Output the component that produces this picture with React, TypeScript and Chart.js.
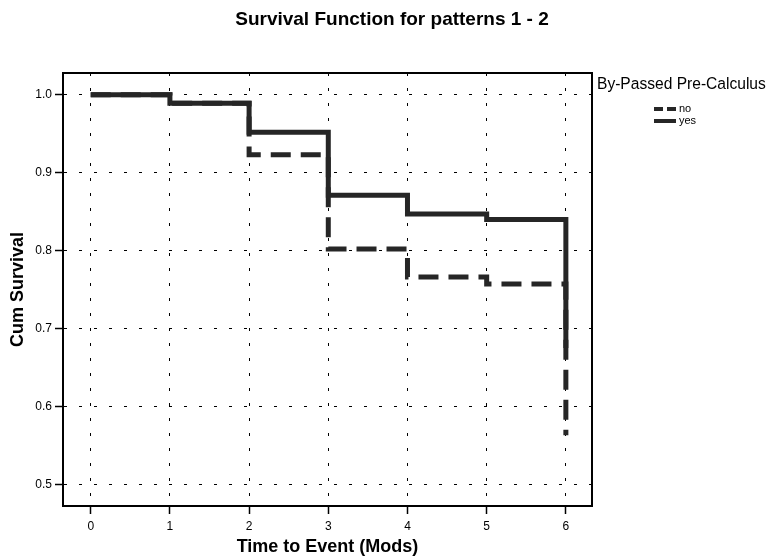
import React, { useEffect, useRef } from "react";
import { Chart, registerables } from "chart.js";

Chart.register(...registerables);

const TITLE = "Survival Function for patterns 1 - 2";
const X_TITLE = "Time to Event (Mods)";
const Y_TITLE = "Cum Survival";
const LEGEND_TITLE = "By-Passed Pre-Calculus";

const times = [0, 1, 2, 3, 4, 5, 6];
const seriesNames = ["no", "yes"];
const noSurvival = [1.0, 0.989, 0.923, 0.802, 0.766, 0.757, 0.563];
const yesSurvival = [1.0, 0.989, 0.952, 0.871, 0.847, 0.84, 0.675];

const xTicks = [0, 1, 2, 3, 4, 5, 6];
const yTicks = [0.5, 0.6, 0.7, 0.8, 0.9, 1.0];

const FONT = "'Liberation Sans', Arial, sans-serif";
const INK = "#262626";

const boxAndLegend = {
  id: "boxAndLegend",
  afterDraw(chart: any) {
    const { ctx, chartArea } = chart;
    ctx.save();
    ctx.strokeStyle = "#000";
    ctx.lineWidth = 2;
    ctx.setLineDash([]);
    ctx.strokeRect(chartArea.left, chartArea.top, chartArea.right - chartArea.left, chartArea.bottom - chartArea.top);

    // legend
    const lx = chartArea.right + 5;
    ctx.fillStyle = "#000";
    ctx.textBaseline = "middle";
    ctx.textAlign = "left";
    let fs = 15;
    ctx.font = `${fs}px ${FONT}`;
    const w = ctx.measureText(LEGEND_TITLE).width;
    fs = (fs * 169) / w;
    ctx.font = `${fs}px ${FONT}`;
    ctx.fillText(LEGEND_TITLE, lx, 85);
    const rows = [109, 121];
    chart.data.datasets.forEach((ds: any, i: number) => {
      const y = rows[i];
      ctx.strokeStyle = ds.borderColor;
      ctx.lineWidth = 4;
      ctx.setLineDash(ds.borderDash && ds.borderDash.length ? [9, 4] : []);
      ctx.beginPath();
      ctx.moveTo(654, y);
      ctx.lineTo(676, y);
      ctx.stroke();
      ctx.setLineDash([]);
      ctx.font = `11px ${FONT}`;
      ctx.fillStyle = "#000";
      ctx.fillText(ds.label, 679, y);
    });
    ctx.restore();
  },
};

export default function App() {
  const ref = useRef<HTMLCanvasElement>(null);
  useEffect(() => {
    if (!ref.current) return;
    const mk = (vals: number[]) => times.map((t, i) => ({ x: t, y: vals[i] }));
    const gridOpts = {
      color: "#000",
      lineWidth: 1,
      tickBorderDash: [],
      tickLength: 8,
      tickColor: "#000",
      tickWidth: 1.5,
    };
    const chart = new Chart(ref.current, {
      type: "line",
      data: {
        datasets: [
          {
            label: seriesNames[0],
            data: mk(noSurvival),
            borderColor: INK,
            borderWidth: 5,
            borderDash: [20, 10],
            stepped: "before",
            pointRadius: 0,
            fill: false,
          },
          {
            label: seriesNames[1],
            data: mk(yesSurvival),
            borderColor: INK,
            borderWidth: 5,
            stepped: "before",
            pointRadius: 0,
            fill: false,
          },
        ],
      },
      options: {
        animation: false,
        responsive: false,
        layout: { padding: { left: 12, right: 0, top: 0, bottom: 0 } },
        plugins: {
          legend: { display: false },
          tooltip: { enabled: false },
          title: {
            display: true,
            text: TITLE,
            color: "#000",
            font: { family: FONT, size: 19, weight: "bold", lineHeight: 1.2 },
            padding: { top: 8.6, bottom: 41.6 },
          },
        },
        scales: {
          x: {
            type: "linear",
            min: -0.35,
            max: 6.33,
            afterBuildTicks: (s: any) => {
              s.ticks = xTicks.map((v) => ({ value: v }));
            },
            afterFit: (s: any) => {
              s.height = 50;
            },
            grid: gridOpts,
            border: { display: true, color: "#000", width: 2, dash: [3, 12] },
            ticks: { color: "#000", font: { family: FONT, size: 12 }, padding: 5 },
            title: {
              display: true,
              text: X_TITLE,
              color: "#000",
              font: { family: FONT, size: 18, weight: "bold", lineHeight: 1.0 },
              padding: { top: 0, bottom: 0 },
            },
          },
          y: {
            type: "linear",
            min: 0.472,
            max: 1.028,
            afterBuildTicks: (s: any) => {
              s.ticks = yTicks.map((v) => ({ value: v }));
            },
            afterFit: (s: any) => {
              s.width = 51;
            },
            grid: gridOpts,
            border: { display: true, color: "#000", width: 2, dash: [3, 12] },
            ticks: {
              color: "#000",
              font: { family: FONT, size: 12 },
              padding: 3,
              callback: (v: any) => Number(v).toFixed(1),
            },
            title: {
              display: true,
              text: Y_TITLE,
              color: "#000",
              font: { family: FONT, size: 18, weight: "bold", lineHeight: 1.0 },
              padding: { top: -2.5, bottom: 0 },
            },
          },
          legendSpace: {
            type: "linear",
            position: "right",
            display: true,
            afterFit: (s: any) => {
              s.width = 180;
            },
            grid: { display: false, drawOnChartArea: false },
            border: { display: false },
            ticks: { display: false },
          },
        },
      },
      plugins: [boxAndLegend],
    });
    return () => chart.destroy();
  }, []);
  return (
    <div style={{ position: "fixed", left: 0, top: 0, width: 772, height: 556, background: "#fff" }}>
      <canvas ref={ref} width={772} height={556} style={{ display: "block" }} />
    </div>
  );
}
